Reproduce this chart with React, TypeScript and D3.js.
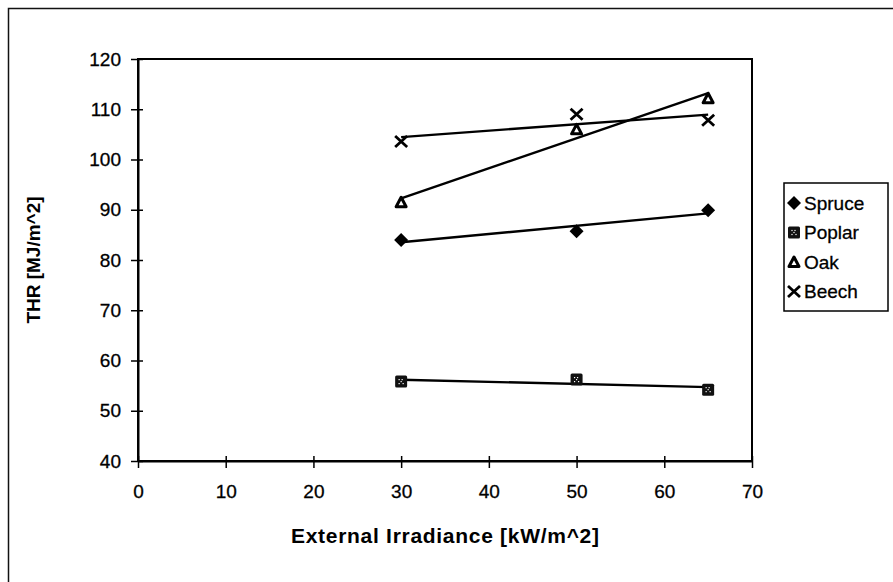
import React, { useEffect, useRef } from "react";
import * as d3 from "d3";

// irradiance levels tested (kW/m^2)
const irradiance = [30, 50, 65];

// THR per species (MJ/m^2)
const spruce = [84, 85.7, 89.9];
const poplar = [55.8, 56.2, 54.2];
const oak = [91.5, 106, 112.2];
const beech = [103.6, 109, 107.8];

const speciesNames = ["Spruce", "Poplar", "Oak", "Beech"];
const xTicks = [0, 10, 20, 30, 40, 50, 60, 70];
const yTicks = [40, 50, 60, 70, 80, 90, 100, 110, 120];

const W = 893;
const H = 582;
const plot = { left: 138, right: 752, top: 59, bottom: 461 };

// least squares line, same as the spreadsheet linear trendline
function fit(xs: number[], ys: number[]) {
  const mx = d3.mean(xs) as number;
  const my = d3.mean(ys) as number;
  let sxy = 0;
  let sxx = 0;
  xs.forEach((x, i) => {
    sxy += (x - mx) * (ys[i] - my);
    sxx += (x - mx) * (x - mx);
  });
  const b = sxy / sxx;
  return (x: number) => my + b * (x - mx);
}

const App = () => {
  const ref = useRef<SVGSVGElement>(null);

  useEffect(() => {
    const svg = d3.select(ref.current);
    svg.selectAll("*").remove();

    const font = "'Liberation Sans', Arial, sans-serif";
    const x = d3.scaleLinear().domain([0, 70]).range([plot.left, plot.right]);
    const y = d3.scaleLinear().domain([40, 120]).range([plot.bottom, plot.top]);

    svg.append("rect").attr("width", W).attr("height", H).attr("fill", "#fff");

    // outer chart frame (right and bottom edges run off the page)
    svg
      .append("rect")
      .attr("x", 8.5)
      .attr("y", 8.5)
      .attr("width", W + 20)
      .attr("height", H + 20)
      .attr("fill", "none")
      .attr("stroke", "#111")
      .attr("stroke-width", 1.5);

    // plot area box
    svg
      .append("rect")
      .attr("x", plot.left)
      .attr("y", plot.top)
      .attr("width", plot.right - plot.left)
      .attr("height", plot.bottom - plot.top)
      .attr("fill", "none")
      .attr("stroke", "#000")
      .attr("stroke-width", 2);

    // y axis
    const yAxis = svg
      .append("g")
      .attr("transform", `translate(${plot.left},0)`)
      .call(
        d3
          .axisLeft(y)
          .tickValues(yTicks)
          .tickSizeInner(7)
          .tickSizeOuter(0)
          .tickPadding(10)
      );
    yAxis.select(".domain").attr("stroke", "#000").attr("stroke-width", 2);
    yAxis
      .selectAll(".tick line")
      .attr("x2", -7)
      .attr("x1", 5)
      .attr("stroke", "#000")
      .attr("stroke-width", 1.5);
    yAxis
      .selectAll(".tick text")
      .attr("font-family", font)
      .attr("font-size", 19)
      .attr("fill", "#000")
      .attr("stroke", "#000")
      .attr("stroke-width", 0.3);

    // x axis
    const xAxis = svg
      .append("g")
      .attr("transform", `translate(0,${plot.bottom})`)
      .call(
        d3
          .axisBottom(x)
          .tickValues(xTicks)
          .tickSizeInner(7)
          .tickSizeOuter(0)
          .tickPadding(17)
      );
    xAxis.select(".domain").attr("stroke", "#000").attr("stroke-width", 2);
    xAxis
      .selectAll(".tick line")
      .attr("y1", -5)
      .attr("y2", 7)
      .attr("stroke", "#000")
      .attr("stroke-width", 1.5);
    xAxis
      .selectAll(".tick text")
      .attr("font-family", font)
      .attr("font-size", 19)
      .attr("fill", "#000")
      .attr("stroke", "#000")
      .attr("stroke-width", 0.3);

    // axis titles
    svg
      .append("text")
      .attr("x", (plot.left + plot.right) / 2)
      .attr("y", 543)
      .attr("text-anchor", "middle")
      .attr("font-family", font)
      .attr("font-weight", "bold")
      .attr("font-size", 21)
      .attr("textLength", 308)
      .text("External Irradiance [kW/m^2]");

    svg
      .append("text")
      .attr("transform", `translate(40,${(plot.top + plot.bottom) / 2}) rotate(-90)`)
      .attr("text-anchor", "middle")
      .attr("font-family", font)
      .attr("font-weight", "bold")
      .attr("font-size", 19)
      .text("THR [MJ/m^2]");

    // marker drawing
    const drawMarker = (g: any, kind: number, cx: number, cy: number) => {
      if (kind === 0) {
        g.append("path")
          .attr("d", `M${cx},${cy - 7}L${cx + 7},${cy}L${cx},${cy + 7}L${cx - 7},${cy}Z`)
          .attr("fill", "#000");
      } else if (kind === 1) {
        g.append("rect")
          .attr("x", cx - 6)
          .attr("y", cy - 6)
          .attr("width", 12)
          .attr("height", 12)
          .attr("rx", 1.5)
          .attr("fill", "#111");
        [[-2, -2], [2, 2], [1, -2], [-2, 2], [0, 0]].forEach(([dx, dy]) => {
          g.append("rect")
            .attr("x", cx + dx - 0.6)
            .attr("y", cy + dy - 0.6)
            .attr("width", 1.2)
            .attr("height", 1.2)
            .attr("fill", "#fff");
        });
      } else if (kind === 2) {
        g.append("path")
          .attr("d", `M${cx},${cy - 5}L${cx + 5},${cy + 4.5}L${cx - 5},${cy + 4.5}Z`)
          .attr("fill", "#fff")
          .attr("stroke", "#000")
          .attr("stroke-width", 3)
          .attr("stroke-linejoin", "round");
      } else {
        g.append("path")
          .attr("d", `M${cx - 6},${cy - 5.5}L${cx + 6},${cy + 5.5}M${cx + 6},${cy - 5.5}L${cx - 6},${cy + 5.5}`)
          .attr("stroke", "#000")
          .attr("stroke-width", 2.8);
      }
    };

    const series = [spruce, poplar, oak, beech];
    const lineG = svg.append("g");
    const markG = svg.append("g");
    series.forEach((vals, k) => {
      const f = fit(irradiance, vals);
      const x0 = d3.min(irradiance) as number;
      const x1 = d3.max(irradiance) as number;
      lineG
        .append("path")
        .attr(
          "d",
          d3.line<number>()
            .x((d) => x(d))
            .y((d) => y(f(d)))([x0, x1])
        )
        .attr("fill", "none")
        .attr("stroke", "#000")
        .attr("stroke-width", 2.4);
      vals.forEach((v, i) => drawMarker(markG, k, x(irradiance[i]), y(v)));
    });

    // legend
    const lg = svg.append("g");
    lg.append("rect")
      .attr("x", 784)
      .attr("y", 183)
      .attr("width", 104)
      .attr("height", 128)
      .attr("fill", "#fff")
      .attr("stroke", "#000")
      .attr("stroke-width", 1.5);
    speciesNames.forEach((name, k) => {
      const cy = 203 + k * 29.5;
      drawMarker(lg, k, 794, cy);
      lg.append("text")
        .attr("x", 804)
        .attr("y", cy)
        .attr("dy", "0.36em")
        .attr("font-family", font)
        .attr("font-size", 19)
        .attr("fill", "#000")
        .attr("stroke", "#000")
        .attr("stroke-width", 0.3)
        .text(name);
    });
  }, []);

  return (
    <div style={{ position: "absolute", left: 0, top: 0 }}>
      <svg ref={ref} width={W} height={H} />
    </div>
  );
};

export default App;
